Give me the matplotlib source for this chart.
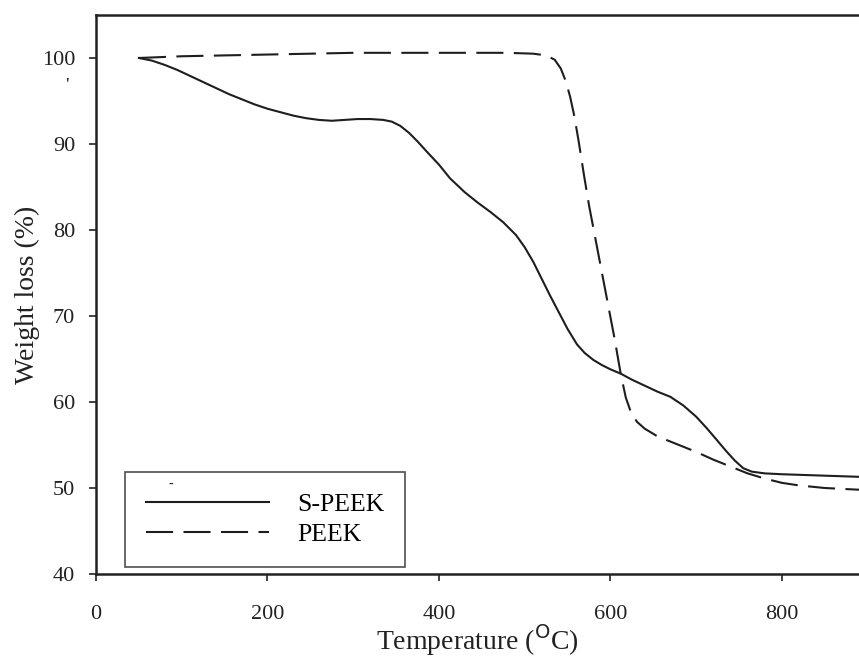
import matplotlib
matplotlib.use("Agg")
import matplotlib.pyplot as plt

# TGA 数据
temp_speek = [50, 65, 80, 95, 110, 125, 140, 155, 170, 185, 200, 215, 230, 245,
              260, 275, 290, 305, 320, 335, 345, 355, 365, 375, 385, 400, 413,
              430, 445, 460, 475, 490, 500, 510, 520, 530, 540, 550, 561, 570,
              580, 590, 600, 612, 625, 640, 655, 670, 685, 700, 712, 724, 735,
              745, 755, 765, 780, 800, 830, 860, 890]
wt_speek = [100, 99.7, 99.2, 98.6, 97.9, 97.2, 96.5, 95.8, 95.2, 94.6, 94.1, 93.7,
            93.3, 93.0, 92.8, 92.7, 92.8, 92.9, 92.9, 92.8, 92.6, 92.1, 91.3,
            90.3, 89.2, 87.6, 86.0, 84.4, 83.2, 82.1, 80.9, 79.4, 78.0, 76.3,
            74.3, 72.3, 70.4, 68.5, 66.7, 65.7, 64.9, 64.3, 63.8, 63.3, 62.6,
            61.9, 61.2, 60.6, 59.6, 58.3, 57.0, 55.6, 54.3, 53.2, 52.3, 51.9,
            51.7, 51.6, 51.5, 51.4, 51.3]

temp_peek = [50, 100, 200, 300, 400, 480, 510, 525, 535, 542, 548, 553, 558, 563,
             569, 575, 585, 595, 605, 612, 618, 624, 631, 640, 655, 670, 685,
             700, 720, 740, 760, 780, 800, 820, 850, 890]
wt_peek = [100, 100.2, 100.4, 100.6, 100.6, 100.6, 100.5, 100.3, 99.8, 98.8, 97.3,
           95.5, 93.2, 90.3, 86.5, 82.9, 77.7, 72.5, 67.3, 63.3, 60.5, 58.8,
           57.7, 56.9, 56.0, 55.4, 54.8, 54.2, 53.3, 52.5, 51.7, 51.1, 50.6,
           50.3, 50.0, 49.8]

xticks = [0, 200, 400, 600, 800]
yticks = [40, 50, 60, 70, 80, 90, 100]

plt.rcParams['font.family'] = ['Liberation Serif', 'DejaVu Serif']

fig = plt.figure(figsize=(8.59, 6.6), dpi=100)
ax = fig.add_axes([0.1118, 0.1303, 0.8882, 0.8470])

line_color = '#1e1e1e'
ax.plot(temp_speek, wt_speek, color=line_color, lw=1.5, label='S-PEEK')
ax.plot(temp_peek, wt_peek, color=line_color, lw=1.5, dashes=(13, 5), label='PEEK')

ax.set_xlim(0, 890)
ax.set_ylim(40, 105)
ax.set_xticks(xticks)
ax.set_yticks(yticks)

for s in ['left', 'bottom', 'top']:
    ax.spines[s].set_linewidth(1.8)
    ax.spines[s].set_color('#222222')
ax.spines['right'].set_visible(False)

ax.tick_params(axis='both', direction='out', length=5, width=1.2,
               labelsize=16, colors='#222222')
ax.tick_params(axis='x', pad=17)
ax.tick_params(axis='y', pad=10)

ax.set_xlabel('Temperature ($^{\\rm O}$C)', fontsize=20, color='#222222', labelpad=-1)
ax.set_ylabel('Weight loss (%)', fontsize=20, color='#222222', labelpad=1)

leg = ax.legend(loc='lower left', bbox_to_anchor=(0.038, 0.0125), fontsize=18.5,
                frameon=True, fancybox=False, handlelength=4.8, handletextpad=1.1,
                borderpad=0.8, labelspacing=0.3, borderaxespad=0)
leg.get_frame().set_edgecolor('#222222')
leg.get_frame().set_linewidth(1.2)

# 扫描件上的小污点
fig.text(67 / 859, 1 - 86 / 660, "'", fontsize=14, color='#222222', ha='center', va='center')
fig.text(171 / 859, 1 - 484 / 660, "-", fontsize=10, color='#222222', ha='center', va='center')

fig.savefig('out.png', dpi=100, facecolor='white')
